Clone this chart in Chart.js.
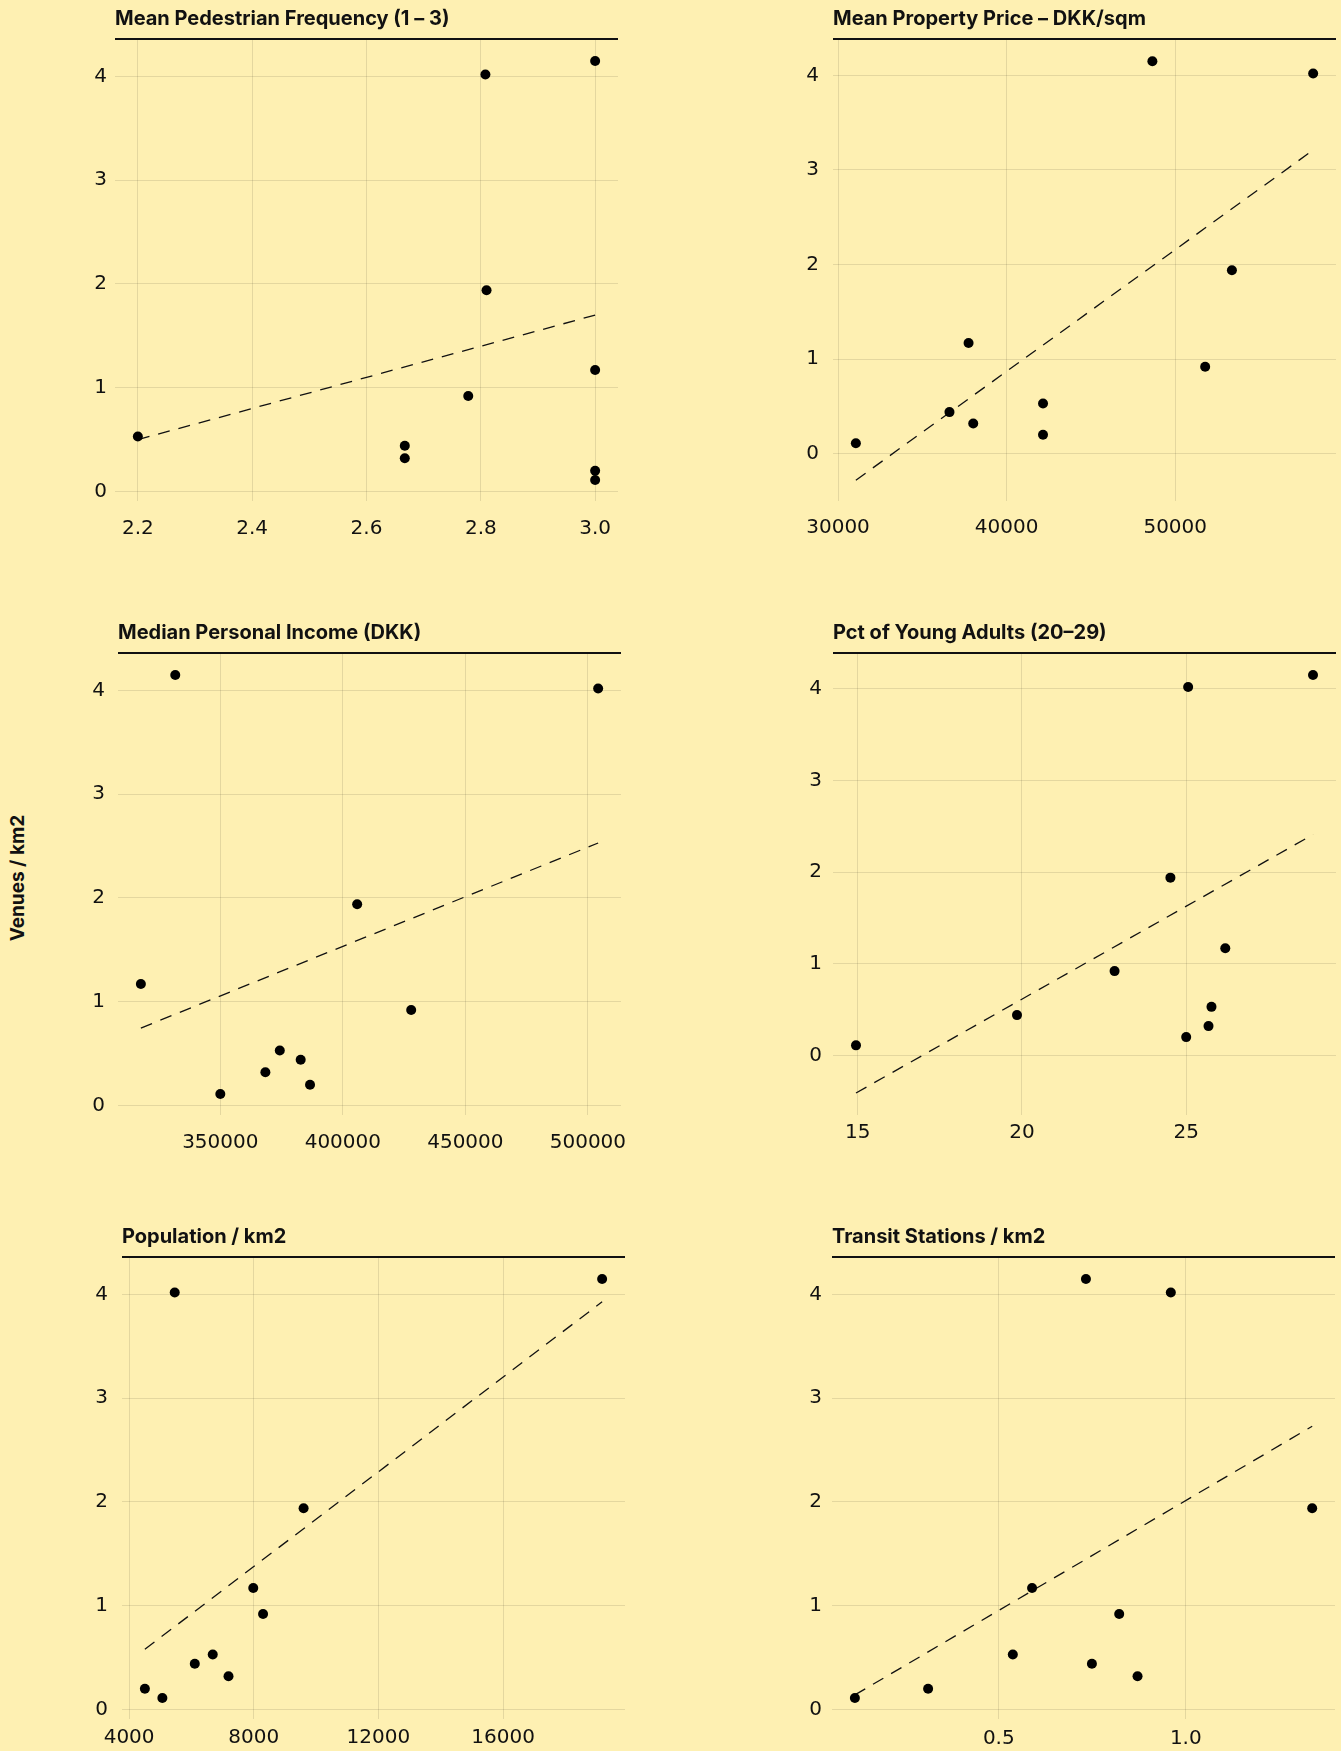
<!DOCTYPE html>
<html>
<head>
<meta charset="utf-8">
<script src="https://cdn.jsdelivr.net/npm/chart.js@4.4.1/dist/chart.umd.min.js"></script>
<style>
  body { margin: 0; background: #fef0b2; width: 1341px; height: 1751px; position: relative; overflow: hidden; }
  canvas { position: absolute; }
  #ylabel {
    position: absolute; left: 17px; top: 878px;
    transform: translate(-50%, -50%) rotate(-90deg);
    font: bold 19px Inter, sans-serif; color: #111; white-space: nowrap;
  }
</style>
</head>
<body>
<div id="ylabel">Venues / km2</div>
<canvas id="p1"></canvas>
<canvas id="p2"></canvas>
<canvas id="p3"></canvas>
<canvas id="p4"></canvas>
<canvas id="p5"></canvas>
<canvas id="p6"></canvas>
<script>
// ================= DADOS =================
// Venues / km2 (eixo y comum, mesma ordem dos bairros em todos os painéis)
const venues = [4.15, 4.02, 1.94, 1.17, 0.92, 0.53, 0.44, 0.32, 0.20, 0.11];

const pedestrian = [3.0, 2.808, 2.81, 3.0, 2.778, 2.2, 2.667, 2.667, 3.0, 3.0];
const propertyPrice = [48644, 58179, 53361, 37742, 51775, 42158, 36610, 38019, 42158, 31058];
const income = [331615, 504180, 405844, 317573, 427881, 374269, 382792, 368385, 386607, 350000];
const youngAdults = [28.86, 25.06, 24.52, 26.19, 22.82, 25.77, 19.85, 25.68, 25.0, 14.95];
const population = [19179, 5464, 9599, 7984, 8298, 6684, 6108, 7190, 4506, 5067];
const transit = [0.733, 0.960, 1.338, 0.589, 0.822, 0.5375, 0.749, 0.871, 0.311, 0.1152];

// linhas de tendência (extremos)
const pedestrianTrendX = [2.2, 3.0];
const pedestrianTrendY = [0.50, 1.70];
const propertyTrendX = [31058, 58179];
const propertyTrendY = [-0.28, 3.21];
const incomeTrendX = [317573, 504180];
const incomeTrendY = [0.746, 2.53];
const youngTrendX = [14.95, 28.86];
const youngTrendY = [-0.41, 2.41];
const populationTrendX = [4506, 19179];
const populationTrendY = [0.58, 3.93];
const transitTrendX = [0.1152, 1.338];
const transitTrendY = [0.14, 2.73];

// limites dos eixos
const pedestrianRange = [2.16, 3.04];
const propertyRange = [29702, 59535];
const incomeRange = [308243, 513510];
const youngRange = [14.25, 29.56];
const populationRange = [3772, 19913];
const transitRange = [0.054, 1.399];
const venuesRange = [-0.092, 4.352];
const propertyVenuesRange = [-0.50, 4.374];
const youngVenuesRange = [-0.65, 4.38];

// ticks
const yTicks = [0, 1, 2, 3, 4];
const yLabels = ['0', '1', '2', '3', '4'];
const pedestrianTicks = [2.2, 2.4, 2.6, 2.8, 3.0];
const pedestrianLabels = ['2.2', '2.4', '2.6', '2.8', '3.0'];
const propertyTicks = [30000, 40000, 50000];
const propertyLabels = ['30000', '40000', '50000'];
const incomeTicks = [350000, 400000, 450000, 500000];
const incomeLabels = ['350000', '400000', '450000', '500000'];
const youngTicks = [15, 20, 25];
const youngLabels = ['15', '20', '25'];
const populationTicks = [4000, 8000, 12000, 16000];
const populationLabels = ['4000', '8000', '12000', '16000'];
const transitTicks = [0.5, 1.0];
const transitLabels = ['0.5', '1.0'];

// ================= LAYOUT =================
const AXIS_W = 70, AXIS_H = 50, TOP = 40, PLOT_W = 505, PLOT_H = 461;
const TICK_FONT = { family: 'DejaVu Sans', size: 20 };

// plugin: título com linha por baixo
const tituloPlugin = {
  id: 'titulo',
  afterDraw(chart, args, opts) {
    const { ctx, chartArea } = chart;
    ctx.save();
    ctx.fillStyle = '#111';
    ctx.fillRect(chartArea.left, chartArea.top - 2, chartArea.right - chartArea.left, 2);
    ctx.font = 'bold 20px Inter';
    ctx.textBaseline = 'middle';
    ctx.textAlign = 'left';
    ctx.fillText(opts.text, chartArea.left, chartArea.top - 21);
    ctx.restore();
  }
};

// sem padding extra dos eixos, a área do gráfico fica fixa
function semPadding(s) {
  s.paddingLeft = 0;
  s.paddingRight = 0;
  s.paddingTop = 0;
  s.paddingBottom = 0;
}

function criarPainel(id, p) {
  const canvas = document.getElementById(id);
  canvas.width = AXIS_W + PLOT_W + 3;
  canvas.height = TOP + PLOT_H + AXIS_H;
  canvas.style.left = (p.left - AXIS_W) + 'px';
  canvas.style.top = (p.top - TOP) + 'px';

  const pontos = p.x.map((v, i) => ({ x: v, y: venues[i] }));
  const tendencia = p.trendX.map((v, i) => ({ x: v, y: p.trendY[i] }));

  new Chart(canvas, {
    type: 'scatter',
    data: {
      datasets: [{
        data: pontos,
        backgroundColor: '#000',
        borderWidth: 0,
        pointRadius: 5,
        order: 0
      }, {
        data: tendencia,
        showLine: true,
        borderColor: '#111',
        borderWidth: 1.3,
        borderDash: [12, 9],
        pointRadius: 0,
        order: 1
      }]
    },
    options: {
      responsive: false,
      animation: false,
      devicePixelRatio: 1,
      layout: { padding: { top: TOP, right: 3, left: 0, bottom: 0 } },
      plugins: {
        legend: { display: false },
        tooltip: { enabled: false },
        titulo: { text: p.title }
      },
      scales: {
        x: {
          type: 'linear',
          min: p.range[0],
          max: p.range[1],
          afterFit: s => { s.height = AXIS_H; semPadding(s); },
          afterBuildTicks: s => { s.ticks = p.ticks.map(v => ({ value: v })); },
          grid: { color: 'rgba(0,0,0,0.1)', drawTicks: false },
          border: { display: false },
          ticks: {
            color: '#111',
            font: TICK_FONT,
            padding: p.xPad,
            maxRotation: 0,
            autoSkip: false,
            callback: (v, i) => p.labels[i]
          }
        },
        y: {
          type: 'linear',
          min: p.yRange[0],
          max: p.yRange[1],
          afterFit: s => { s.width = AXIS_W; semPadding(s); },
          afterBuildTicks: s => { s.ticks = yTicks.map(v => ({ value: v })); },
          grid: { color: 'rgba(0,0,0,0.1)', drawTicks: false },
          border: { display: false },
          ticks: {
            color: '#111',
            font: TICK_FONT,
            padding: p.yPad,
            callback: (v, i) => yLabels[i]
          }
        }
      }
    },
    plugins: [tituloPlugin]
  });
}

// ================= PAINÉIS =================
criarPainel('p1', {
  title: 'Mean Pedestrian Frequency (1 – 3)', left: 115, top: 40, xPad: 16, yPad: 8,
  x: pedestrian, trendX: pedestrianTrendX, trendY: pedestrianTrendY,
  range: pedestrianRange, yRange: venuesRange, ticks: pedestrianTicks, labels: pedestrianLabels
});
criarPainel('p2', {
  title: 'Mean Property Price – DKK/sqm', left: 833, top: 40, xPad: 15, yPad: 14,
  x: propertyPrice, trendX: propertyTrendX, trendY: propertyTrendY,
  range: propertyRange, yRange: propertyVenuesRange, ticks: propertyTicks, labels: propertyLabels
});
criarPainel('p3', {
  title: 'Median Personal Income (DKK)', left: 118, top: 654, xPad: 16, yPad: 13,
  x: income, trendX: incomeTrendX, trendY: incomeTrendY,
  range: incomeRange, yRange: venuesRange, ticks: incomeTicks, labels: incomeLabels
});
criarPainel('p4', {
  title: 'Pct of Young Adults (20–29)', left: 833, top: 654, xPad: 6, yPad: 11,
  x: youngAdults, trendX: youngTrendX, trendY: youngTrendY,
  range: youngRange, yRange: youngVenuesRange, ticks: youngTicks, labels: youngLabels
});
criarPainel('p5', {
  title: 'Population / km2', left: 122, top: 1258, xPad: 7, yPad: 14,
  x: population, trendX: populationTrendX, trendY: populationTrendY,
  range: populationRange, yRange: venuesRange, ticks: populationTicks, labels: populationLabels
});
criarPainel('p6', {
  title: 'Transit Stations / km2', left: 832, top: 1258, xPad: 8, yPad: 10,
  x: transit, trendX: transitTrendX, trendY: transitTrendY,
  range: transitRange, yRange: venuesRange, ticks: transitTicks, labels: transitLabels
});
</script>
</body>
</html>
